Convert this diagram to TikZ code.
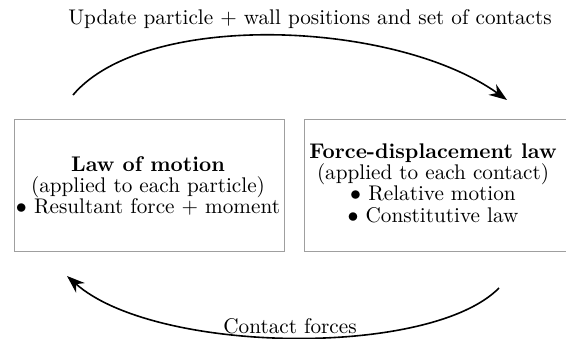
\documentclass[tikz,border=0pt]{standalone}
\usepackage{amsmath, amssymb}
\usetikzlibrary{arrows.meta, positioning, calc}

\newcommand{\boxfont}{\fontsize{10.6}{10.7}\selectfont\lineskiplimit -10pt\relax}

\begin{document}
\begin{tikzpicture}[x=0.5pt, y=-0.5pt,
    box/.style={draw=gray!75, line width=0.5pt, minimum height=66pt},
    boxtext/.style={align=center, font=\boxfont},
    flow/.style={thick, -{Stealth[length=9pt, width=6.5pt]}}]
        \useasboundingbox (0,0) rectangle (566,338);

        % Caselle
        \node[box, minimum width=135pt] (motion) at (149,185) {};
        \node[box, minimum width=138pt] (contact) at (442,185) {};

        % Testi
        \node[boxtext] (motiontxt) at (148,186)
            {\textbf{Law of motion}\\(applied to each particle)\\$\bullet$ Resultant force + moment};
        \node[boxtext] (contacttxt) at (433,183)
            {\textbf{Force-displacement law}\\(applied to each contact)\\$\bullet$ Relative motion\\$\bullet$ Constitutive law};

        % Ciclo
        \coordinate (upd0) at (73,95);
        \coordinate (upd1) at (507,100);
        \coordinate (frc0) at (499,288);
        \coordinate (frc1) at (67,276);
        \draw[flow] (upd0) .. controls (145,10) and (395,20) .. (upd1);
        \draw[flow] (frc0) .. controls (430,358) and (155,354) .. (frc1);

        \node[font=\fontsize{10.6}{12}\selectfont] (updlabel) at (310,19) {Update particle + wall positions and set of contacts};
        \node[font=\fontsize{10.6}{12}\selectfont] (frclabel) at (290,326) {Contact forces};
    \end{tikzpicture}
\end{document}
